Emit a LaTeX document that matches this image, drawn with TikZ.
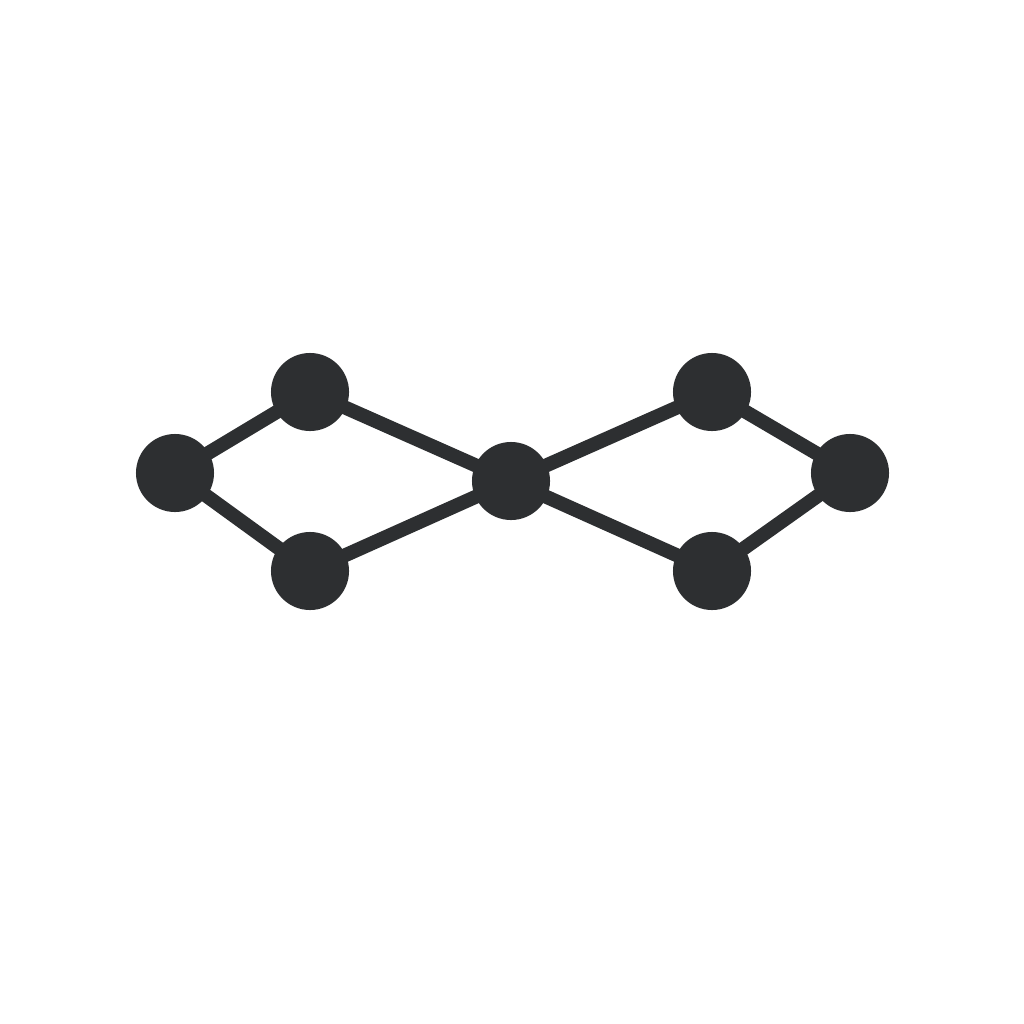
\documentclass[tikz,border=0pt]{standalone}
\usetikzlibrary{backgrounds}
\definecolor{ink}{HTML}{2D2F31}
\begin{document}
\begin{tikzpicture}[x=0.01cm,y=-0.01cm,
  dot/.style={circle,fill=ink,minimum size=0.78cm,inner sep=0pt},
  link/.style={draw=ink,line width=0.14cm}]
\useasboundingbox (0,0) rectangle (1024,1024);
\node[dot] (l) at (175,473) {};
\node[dot] (tl) at (310,392) {};
\node[dot] (bl) at (310,571) {};
\node[dot] (c) at (511,481) {};
\node[dot] (tr) at (712,392) {};
\node[dot] (br) at (712,571) {};
\node[dot] (r) at (850,473) {};
\begin{pgfonlayer}{background}
\fill[white] (0,0) rectangle (1024,1024);
\draw[link] (l.center) -- (tl.center) (l.center) -- (bl.center)
  (tl.center) -- (c.center) (bl.center) -- (c.center)
  (c.center) -- (tr.center) (c.center) -- (br.center)
  (tr.center) -- (r.center) (br.center) -- (r.center);
\end{pgfonlayer}
\end{tikzpicture}
\end{document}
